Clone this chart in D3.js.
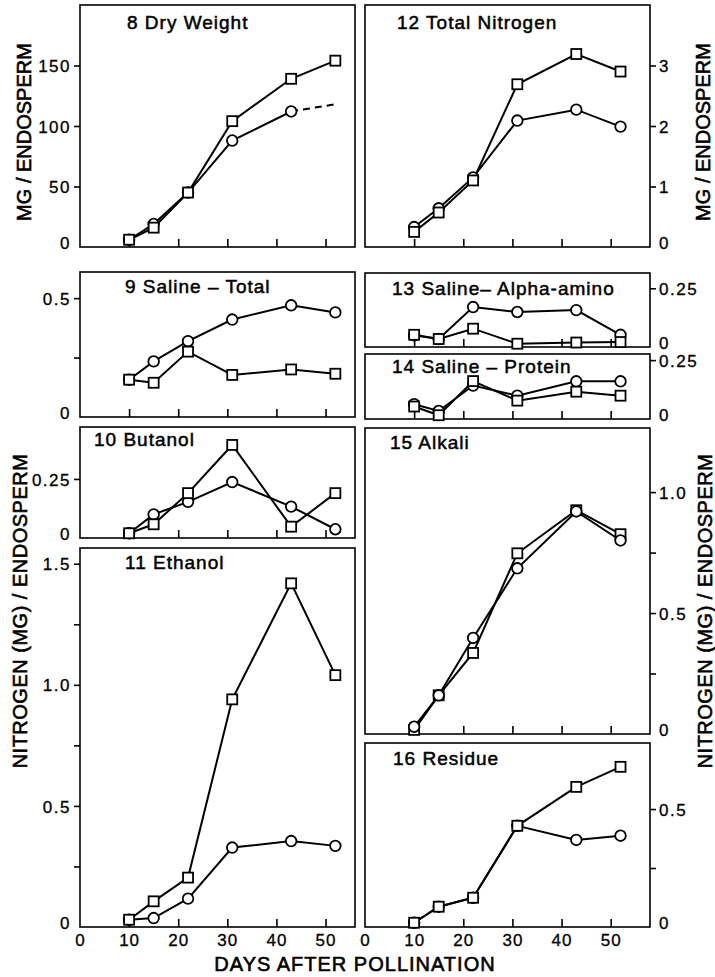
<!DOCTYPE html>
<html>
<head>
<meta charset="utf-8">
<script src="https://cdn.jsdelivr.net/npm/d3@7"></script>
<style>
  html, body { margin: 0; padding: 0; background: #fff; }
  svg { display: block; }
  text { font-family: "Liberation Sans", Arial, sans-serif; fill: #000; }
</style>
</head>
<body>
<script>
// ---------------- DATA ----------------
const days = [10, 15, 22, 31, 43, 52];
const xTickDays = [10, 20, 30, 40, 50];
const xAxisLabelDays = [0, 10, 20, 30, 40, 50];

// 8 Dry Weight (mg / endosperm)
const dryWeightSquares = [6, 16, 45, 104, 139, 154];
const dryWeightCircles = [6, 19, 45, 88, 112, 118];   // last segment dashed
const dryWeightTicks = [0, 50, 100, 150];
const dryWeightTickLabels = ["0", "50", "100", "150"];

// 12 Total Nitrogen
const totalNSquares = [0.25, 0.57, 1.1, 2.69, 3.19, 2.9];
const totalNCircles = [0.33, 0.64, 1.15, 2.09, 2.27, 1.99];
const totalNTicks = [0, 1, 2, 3];
const totalNTickLabels = ["0", "1", "2", "3"];

// 9 Saline - Total
const salineTotalCircles = [0.157, 0.234, 0.319, 0.41, 0.47, 0.44];
const salineTotalSquares = [0.157, 0.144, 0.275, 0.177, 0.2, 0.182];
const salineTotalTicks = [0, 0.25, 0.5];
const salineTotalTickLabels = ["0", "", "0.5"];

// 10 Butanol
const butanolSquares = [0.02, 0.058, 0.19, 0.394, 0.048, 0.19];
const butanolCircles = [0.02, 0.1, 0.153, 0.237, 0.133, 0.037];
const butanolTicks = [0, 0.25];
const butanolTickLabels = ["0", "0.25"];

// 11 Ethanol
const ethanolSquares = [0.03, 0.106, 0.204, 0.94, 1.419, 1.04];
const ethanolCircles = [0.03, 0.037, 0.117, 0.328, 0.355, 0.335];
const ethanolTicks = [0, 0.25, 0.5, 0.75, 1.0, 1.25, 1.5];
const ethanolTickLabels = ["0", "", "0.5", "", "1.0", "", "1.5"];

// 13 Saline - Alpha-amino
const alphaAminoCircles = [0.05, 0.034, 0.17, 0.149, 0.157, 0.052];
const alphaAminoSquares = [0.052, 0.034, 0.078, 0.014, 0.019, 0.021];
const alphaAminoTicks = [0, 0.25];
const alphaAminoTickLabels = ["0", "0.25"];

// 14 Saline - Protein
const proteinCircles = [0.063, 0.034, 0.142, 0.099, 0.16, 0.16];
const proteinSquares = [0.053, 0.016, 0.161, 0.078, 0.116, 0.099];
const proteinTicks = [0, 0.25];
const proteinTickLabels = ["0", "0.25"];

// 15 Alkali
const alkaliCircles = [0.03, 0.16, 0.397, 0.685, 0.92, 0.80];
const alkaliSquares = [0.017, 0.16, 0.335, 0.747, 0.925, 0.826];
const alkaliTicks = [0, 0.25, 0.5, 0.75, 1.0];
const alkaliTickLabels = ["0", "", "0.5", "", "1.0"];

// 16 Residue
const residueSquares = [0.018, 0.086, 0.124, 0.429, 0.594, 0.679];
const residueCircles = [0.018, 0.086, 0.124, 0.429, 0.369, 0.387];
const residueTicks = [0, 0.25, 0.5];
const residueTickLabels = ["0", "", "0.5"];

const panelTitles = ["8 Dry Weight", "12 Total Nitrogen", "9 Saline \u2013 Total", "10 Butanol",
  "11 Ethanol", "13 Saline\u2013  Alpha-amino", "14 Saline \u2013 Protein", "15 Alkali", "16 Residue"];

const xAxisTitle = "DAYS AFTER POLLINATION";
const yTitleTop = "MG / ENDOSPERM";
const yTitleBottom = "NITROGEN (MG) / ENDOSPERM";

// ---------------- LAYOUT ----------------
const W = 715, H = 977;
const svg = d3.select("body").append("svg").attr("width", W).attr("height", H);
svg.append("rect").attr("width", W).attr("height", H).attr("fill", "#fff");

const xL = d3.scaleLinear().domain([0, 56]).range([80, 355]);
const xR = d3.scaleLinear().domain([0, 58]).range([365, 650]);

const panels = [
  { title: panelTitles[0], col: 0, top: 5, bottom: 247, ymax: 200, side: "left", tx: 127, ty: 29,
    ticks: dryWeightTicks, labels: dryWeightTickLabels,
    series: [{ v: dryWeightCircles, s: "c", dashLast: true }, { v: dryWeightSquares, s: "s" }] },
  { title: panelTitles[1], col: 1, top: 5, bottom: 247, ymax: 4, side: "right", tx: 397, ty: 29,
    ticks: totalNTicks, labels: totalNTickLabels,
    series: [{ v: totalNCircles, s: "c" }, { v: totalNSquares, s: "s" }] },
  { title: panelTitles[2], col: 0, top: 272, bottom: 417, ymax: 0.61, side: "left", tx: 125, ty: 293,
    ticks: salineTotalTicks, labels: salineTotalTickLabels,
    series: [{ v: salineTotalCircles, s: "c" }, { v: salineTotalSquares, s: "s" }] },
  { title: panelTitles[3], col: 0, top: 427, bottom: 538, ymax: 0.47, side: "left", tx: 94, ty: 446,
    ticks: butanolTicks, labels: butanolTickLabels,
    series: [{ v: butanolCircles, s: "c" }, { v: butanolSquares, s: "s" }] },
  { title: panelTitles[4], col: 0, top: 548, bottom: 927, ymax: 1.565, side: "left", tx: 125, ty: 569,
    ticks: ethanolTicks, labels: ethanolTickLabels, xLabels: true,
    series: [{ v: ethanolCircles, s: "c" }, { v: ethanolSquares, s: "s" }] },
  { title: panelTitles[5], col: 1, top: 273, bottom: 347, ymax: 0.315, side: "right", tx: 392, ty: 295,
    ticks: alphaAminoTicks, labels: alphaAminoTickLabels,
    series: [{ v: alphaAminoCircles, s: "c" }, { v: alphaAminoSquares, s: "s" }] },
  { title: panelTitles[6], col: 1, top: 354, bottom: 419, ymax: 0.276, side: "right", tx: 392, ty: 373,
    ticks: proteinTicks, labels: proteinTickLabels,
    series: [{ v: proteinCircles, s: "c" }, { v: proteinSquares, s: "s" }] },
  { title: panelTitles[7], col: 1, top: 428, bottom: 734, ymax: 1.265, side: "right", tx: 390, ty: 449,
    ticks: alkaliTicks, labels: alkaliTickLabels,
    series: [{ v: alkaliSquares, s: "s" }, { v: alkaliCircles, s: "c" }] },
  { title: panelTitles[8], col: 1, top: 743, bottom: 927, ymax: 0.78, side: "right", tx: 393, ty: 765,
    ticks: residueTicks, labels: residueTickLabels, xLabels: true,
    series: [{ v: residueCircles, s: "c" }, { v: residueSquares, s: "s" }] }
];

const LW = 2;

function drawPanel(p) {
  const x = p.col === 0 ? xL : xR;
  const [x0, x1] = x.range();
  const y = d3.scaleLinear().domain([0, p.ymax]).range([p.bottom, p.top]);
  const g = svg.append("g");

  // frame
  g.append("rect").attr("x", x0).attr("y", p.top).attr("width", x1 - x0).attr("height", p.bottom - p.top)
    .attr("fill", "none").attr("stroke", "#000").attr("stroke-width", 1.6);

  // inward x ticks
  const xt = g.append("g").attr("transform", `translate(0,${p.bottom})`)
    .call(d3.axisTop(x).tickValues(xTickDays).tickSize(8).tickSizeOuter(0).tickFormat(""));
  xt.select(".domain").remove();
  xt.selectAll(".tick line").attr("stroke", "#000").attr("stroke-width", 1.6);

  if (p.xLabels) {
    const xb = g.append("g").attr("transform", `translate(0,${p.bottom})`)
      .call(d3.axisBottom(x).tickValues(xAxisLabelDays).tickSize(0).tickPadding(7).tickFormat(d3.format("d")));
    xb.select(".domain").remove();
    xb.attr("font-family", null).attr("font-size", null);
    xb.selectAll("text").attr("font-size", 17).style("letter-spacing", "1px")
      .attr("stroke", "#000").attr("stroke-width", 0.3);
  }

  // y axis
  const edge = p.side === "left" ? x0 : x1;
  const axis = (p.side === "left" ? d3.axisLeft(y) : d3.axisRight(y))
    .tickValues(p.ticks).tickSize(6).tickPadding(3)
    .tickFormat((d, i) => p.labels[i]);
  const ya = g.append("g").attr("transform", `translate(${edge},0)`).call(axis);
  ya.select(".domain").remove();
  ya.attr("font-family", null).attr("font-size", null);
  ya.selectAll(".tick line").attr("stroke", "#000").attr("stroke-width", 1.6)
    .attr("opacity", d => d === 0 ? 0 : 1);
  ya.selectAll("text").attr("font-size", 17).style("letter-spacing", "1.5px")
    .attr("stroke", "#000").attr("stroke-width", 0.3)
    .attr("dy", d => d === 0 ? "0.1em" : "0.36em");

  // title
  g.append("text").attr("x", p.tx).attr("y", p.ty).text(p.title)
    .attr("font-size", 19).style("letter-spacing", "1px")
    .attr("stroke", "#000").attr("stroke-width", 0.5);

  const line = d3.line().x((d, i) => x(days[i])).y(d => y(d));

  // lines
  p.series.forEach(se => {
    const vals = se.v;
    if (se.dashLast) {
      const solid = vals.slice(0, vals.length - 1);
      g.append("path").attr("d", line(solid)).attr("fill", "none").attr("stroke", "#000").attr("stroke-width", LW);
      const lastTwo = [[days[vals.length - 2], vals[vals.length - 2]], [days[vals.length - 1], vals[vals.length - 1]]];
      g.append("path").attr("d", d3.line().x(d => x(d[0])).y(d => y(d[1]))(lastTwo))
        .attr("fill", "none").attr("stroke", "#000").attr("stroke-width", LW).attr("stroke-dasharray", "7,5");
    } else {
      g.append("path").attr("d", line(vals)).attr("fill", "none").attr("stroke", "#000").attr("stroke-width", LW);
    }
  });

  // markers
  p.series.forEach(se => {
    const n = se.dashLast ? se.v.length - 1 : se.v.length;
    const pts = se.v.slice(0, n).map((v, i) => ({ x: x(days[i]), y: y(v) }));
    if (se.s === "c") {
      g.selectAll(null).data(pts).join("circle")
        .attr("cx", d => d.x).attr("cy", d => d.y).attr("r", 5.3)
        .attr("fill", "#fff").attr("stroke", "#000").attr("stroke-width", 1.8);
    } else {
      const s = 10;
      g.selectAll(null).data(pts).join("rect")
        .attr("x", d => d.x - s / 2).attr("y", d => d.y - s / 2).attr("width", s).attr("height", s)
        .attr("fill", "#fff").attr("stroke", "#000").attr("stroke-width", 1.8);
    }
  });
}

panels.forEach(drawPanel);

// axis titles
function vtext(txt, cx, cy, size, ls) {
  svg.append("text").attr("transform", `translate(${cx},${cy}) rotate(-90)`)
    .attr("text-anchor", "middle").attr("dominant-baseline", "central")
    .attr("font-size", size).style("letter-spacing", ls)
    .attr("stroke", "#000").attr("stroke-width", 0.6)
    .text(txt);
}
vtext(yTitleTop, 24, 132, 20, "0px");
vtext(yTitleTop, 703, 132, 20, "0px");
vtext(yTitleBottom, 20, 611, 20, "0.5px");
vtext(yTitleBottom, 705, 611, 20, "0.5px");

svg.append("text").attr("x", 355).attr("y", 971).attr("text-anchor", "middle")
  .attr("font-size", 20).style("letter-spacing", "1px")
  .attr("stroke", "#000").attr("stroke-width", 0.6)
  .text(xAxisTitle);
</script>
</body>
</html>
